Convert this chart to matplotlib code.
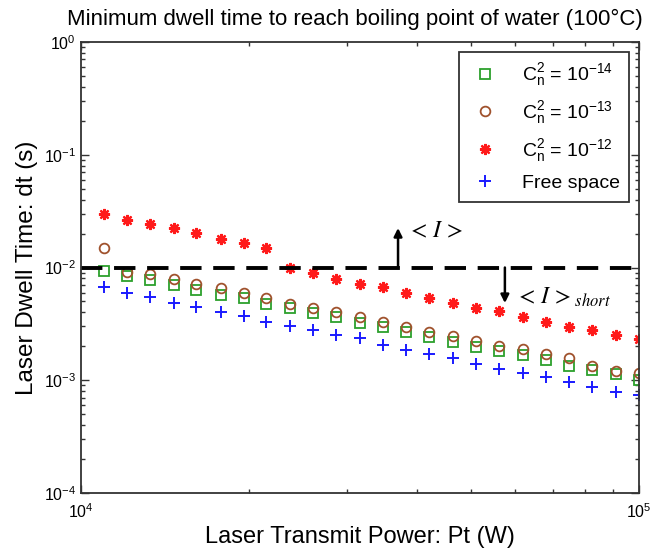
import numpy as np
import matplotlib
matplotlib.use('Agg')
import matplotlib.pyplot as plt
from matplotlib.ticker import LogLocator, LogFormatterSciNotation, NullFormatter

plt.rcParams['font.family'] = ['Liberation Sans', 'DejaVu Sans']
plt.rcParams['mathtext.fontset'] = 'stix'

# transmit power (W)
power = [11000, 12100, 13300, 14700, 16100, 17800, 19600, 21500, 23700, 26100,
         28700, 31600, 34800, 38300, 42100, 46400, 51100, 56200, 61900, 68100,
         75000, 82500, 90800, 100000]

# dwell time (s) per turbulence strength
dt_cn14 = [0.00937, 0.00841, 0.00775, 0.00700, 0.00631, 0.00570, 0.00533, 0.00475,
           0.00434, 0.00392, 0.00362, 0.00324, 0.00295, 0.00270, 0.00240, 0.00220,
           0.00199, 0.00183, 0.00167, 0.00151, 0.00135, 0.00123, 0.00114, 0.00100]
dt_cn13 = [0.0148, 0.00918, 0.00871, 0.00786, 0.00714, 0.00654, 0.00598, 0.00533,
           0.00475, 0.00434, 0.00400, 0.00366, 0.00331, 0.00298, 0.00270, 0.00247,
           0.00224, 0.00201, 0.00188, 0.00171, 0.00156, 0.00134, 0.00122, 0.00117]
dt_cn12 = [0.0298, 0.0264, 0.0242, 0.0225, 0.0201, 0.0180, 0.0164, 0.0148,
           0.00990, 0.00894, 0.00791, 0.00714, 0.00671, 0.00594, 0.00536, 0.00484,
           0.00437, 0.00411, 0.00364, 0.00329, 0.00297, 0.00279, 0.00252, 0.00232]
dt_free = [0.00676, 0.00590, 0.00544, 0.00482, 0.00444, 0.00406, 0.00371, 0.00331,
           0.00303, 0.00279, 0.00252, 0.00236, 0.00206, 0.00185, 0.00171, 0.00156,
           0.00139, 0.00125, 0.00115, 0.00108, 0.00096, 0.00088, 0.00078, 0.00074]

threshold = 1e-2

fig = plt.figure(figsize=(6.61, 5.5), dpi=100, facecolor='white')
ax = fig.add_axes([0.1225, 0.1036, 0.8442, 0.82])

ax.plot(power, dt_cn14, linestyle='none', marker='s', markersize=7,
        markerfacecolor='none', markeredgecolor='#2ca02c', markeredgewidth=1.3,
        label=r'$\mathregular{C_n^2}$ = $\mathregular{10^{-14}}$')
ax.plot(power, dt_cn13, linestyle='none', marker='o', markersize=7,
        markerfacecolor='none', markeredgecolor='#a0522d', markeredgewidth=1.3,
        label=r'$\mathregular{C_n^2}$ = $\mathregular{10^{-13}}$')
ax.plot(power, dt_cn12, linestyle='none', marker=(8, 2, 0), markersize=8,
        markeredgecolor='#ff1a1a', markeredgewidth=1.6, color='#ff1a1a',
        label=r'$\mathregular{C_n^2}$ = $\mathregular{10^{-12}}$')
ax.plot(power, dt_free, linestyle='none', marker='+', markersize=9,
        markeredgecolor='#1a1aff', markeredgewidth=1.4,
        label='Free space')

# boiling threshold line
ax.axhline(threshold, color='black', linewidth=2.8, linestyle=(0, (5.5, 3)))

# region arrows
ax.annotate('', xy=(37000, 0.0224), xytext=(37000, threshold),
            arrowprops=dict(arrowstyle='-|>', color='black', lw=1.8,
                            mutation_scale=12, shrinkA=0, shrinkB=0))
ax.text(38400, 0.0208, r'$<\,I\,>$', fontsize=17, va='center', ha='left')
ax.annotate('', xy=(57500, 0.00484), xytext=(57500, threshold),
            arrowprops=dict(arrowstyle='-|>', color='black', lw=1.8,
                            mutation_scale=12, shrinkA=0, shrinkB=0))
ax.text(60000, 0.0054, r'$<\,I\,>_{short}$', fontsize=17, va='center', ha='left')

ax.set_xscale('log')
ax.set_yscale('log')
ax.set_xlim(1e4, 1e5)
ax.set_ylim(1e-4, 1e0)

ax.xaxis.set_major_locator(LogLocator(base=10, numticks=5))
ax.yaxis.set_major_locator(LogLocator(base=10, numticks=10))
ax.xaxis.set_minor_locator(LogLocator(base=10, subs=np.arange(2, 10), numticks=10))
ax.yaxis.set_minor_locator(LogLocator(base=10, subs=np.arange(2, 10), numticks=10))
ax.xaxis.set_minor_formatter(NullFormatter())
ax.yaxis.set_minor_formatter(NullFormatter())
ax.xaxis.set_major_formatter(LogFormatterSciNotation())
ax.yaxis.set_major_formatter(LogFormatterSciNotation())

ax.tick_params(which='both', direction='in', top=True, right=True,
               colors='#333333', labelcolor='black', labelsize=11.5)
ax.tick_params(axis='x', which='major', pad=7)
ax.tick_params(which='major', length=6, width=1)
ax.tick_params(which='minor', length=3, width=1)
for s in ax.spines.values():
    s.set_linewidth(1.3)
    s.set_edgecolor('#333333')

ax.set_title('Minimum dwell time to reach boiling point of water (100\u00b0C)',
             fontsize=16, pad=12, x=0.49)
ax.set_xlabel('Laser Transmit Power: Pt (W)', fontsize=17, labelpad=3)
ax.set_ylabel('Laser Dwell Time: dt (s)', fontsize=17.5, labelpad=4)

leg = ax.legend(loc='upper right', fontsize=14, frameon=True, fancybox=False,
                edgecolor='#333333', framealpha=1, borderpad=0.5,
                labelspacing=0.55, handlelength=1.6, handletextpad=1.1,
                borderaxespad=0.5)
leg.get_frame().set_linewidth(1.3)

fig.savefig('out.png', dpi=100, facecolor='white')
